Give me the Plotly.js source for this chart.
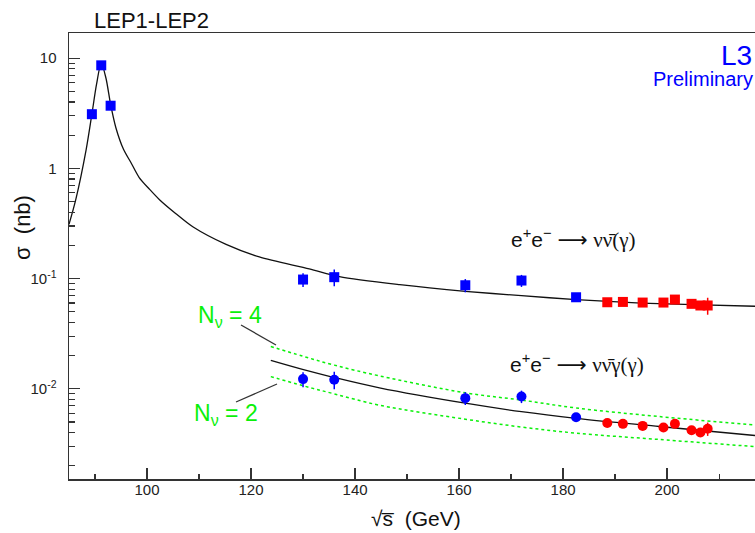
<!DOCTYPE html>
<html>
<head>
<meta charset="utf-8">
<script src="https://cdn.plot.ly/plotly-3.0.1.min.js"></script>
<style>html,body{margin:0;padding:0;background:#fff;}#chart{width:755px;height:533px;}</style>
</head>
<body>
<div id="chart"></div>
<script>
// ---- measurements: e+e- -> nu nubar (gamma)  (squares) ----
const nnX_blue = [89.4, 91.2, 93.0, 130.0, 136.0, 161.2, 172.0, 182.5];
const nnY_blue = [3.1, 8.6, 3.7, 0.098, 0.103, 0.087, 0.096, 0.0677];
const nnE_blue = [0, 0, 0, 0.014, 0.018, 0.012, 0.012, 0.004];
const nnX_red = [188.5, 191.5, 195.3, 199.3, 201.5, 204.7, 206.4, 207.8];
const nnY_red = [0.061, 0.0614, 0.0606, 0.0606, 0.0645, 0.059, 0.057, 0.057];
const nnE_red = [0.003, 0.003, 0.003, 0.003, 0.003, 0.003, 0.004, 0.010];

// ---- measurements: e+e- -> nu nubar gamma (gamma)  (circles) ----
const ngX_blue = [130.0, 136.0, 161.2, 172.0, 182.5];
const ngY_blue = [0.01225, 0.0121, 0.00823, 0.00852, 0.00553];
const ngE_blue = [0.0019, 0.0022, 0.0011, 0.0011, 0.0003];
const ngX_red = [188.5, 191.5, 195.3, 199.3, 201.5, 204.7, 206.4, 207.8];
const ngY_red = [0.00489, 0.00481, 0.00461, 0.00446, 0.00481, 0.00421, 0.00401, 0.00434];
const ngE_red = [0.0002, 0.0002, 0.0002, 0.0002, 0.0002, 0.0002, 0.0003, 0.0006];

// ---- theory curves ----
const nnCurveX = [85.0, 86.3, 88.3, 89.4, 90.3, 91.2, 92.1, 93.0, 94.0, 95.5, 96.9, 98.5, 100.5, 102.4, 105.5, 108.8, 115.2, 121.6, 131.2, 137.0, 148.6, 161.2, 172.0, 182.5, 195.0, 205.0, 216.9];
const nnCurveY = [0.31, 0.52, 1.48, 3.1, 5.8, 9.0, 6.6, 3.8, 2.35, 1.48, 1.13, 0.825, 0.645, 0.52, 0.39, 0.295, 0.204, 0.157, 0.1225, 0.104, 0.088, 0.0767, 0.070, 0.0645, 0.060, 0.058, 0.0561];

const ngCurveX = [123.8, 129.9, 136.0, 144.7, 161.2, 172.0, 182.5, 198.5, 216.9];
const ngCurveY_N3 = [0.0181, 0.0150, 0.01266, 0.0102, 0.0074, 0.0062, 0.0054, 0.00455, 0.00377];
const ngCurveY_N4 = [0.0242, 0.0198, 0.0164, 0.0131, 0.0092, 0.0079, 0.0067, 0.0056, 0.0047];
const ngCurveY_N2 = [0.0129, 0.0107, 0.0090, 0.0071, 0.0053, 0.0045, 0.00396, 0.00347, 0.00299];

// ---- axis ticks ----
const yTickVals = [0.01, 0.1, 1, 10];
const yTickText = ['10<sup>-2</sup>', '10<sup>-1</sup>', '1', '10'];
const yMinorVals = [0.002,0.003,0.004,0.005,0.006,0.007,0.008,0.009,
                    0.02,0.03,0.04,0.05,0.06,0.07,0.08,0.09,
                    0.2,0.3,0.4,0.5,0.6,0.7,0.8,0.9,
                    2,3,4,5,6,7,8,9];

const BLUE = 'rgb(0,0,255)', RED = 'rgb(255,0,0)', GREEN = 'rgb(10,240,10)';
const FONT = 'Liberation Sans, Arial, Helvetica, sans-serif';
const SYM = 'font-family:Liberation Serif,DejaVu Serif,serif';
const ARR = 'font-family:DejaVu Sans,sans-serif';

// layout geometry
const W = 755, H = 533, ML = 69, MR = 0, MT = 33, MB = 54;
const PW = W - ML - MR, PH = H - MT - MB;
const px = v => (v - ML) / PW;
const py = v => (H - MB - v) / PH;

function errTrace(x, y, e, color, symbol) {
  return {
    x: x, y: y, type: 'scatter', mode: 'markers',
    marker: {symbol: symbol, size: 10, color: color, line: {width: 0}},
    error_y: {type: 'data', array: e, visible: true, color: color, thickness: 1.5, width: 0},
    hoverinfo: 'x+y', cliponaxis: false
  };
}

const traces = [
  {x: nnCurveX, y: nnCurveY, type: 'scatter', mode: 'lines', line: {color: '#111', width: 1.3, shape: 'spline', smoothing: 0.8}},
  {x: ngCurveX, y: ngCurveY_N4, type: 'scatter', mode: 'lines', line: {color: GREEN, width: 1.5, dash: 'dot', shape: 'spline'}},
  {x: ngCurveX, y: ngCurveY_N2, type: 'scatter', mode: 'lines', line: {color: GREEN, width: 1.5, dash: 'dot', shape: 'spline'}},
  {x: ngCurveX, y: ngCurveY_N3, type: 'scatter', mode: 'lines', line: {color: '#111', width: 1.3, shape: 'spline'}},
  errTrace(nnX_blue, nnY_blue, nnE_blue, BLUE, 'square'),
  errTrace(nnX_red, nnY_red, nnE_red, RED, 'square'),
  errTrace(ngX_blue, ngY_blue, ngE_blue, BLUE, 'circle'),
  errTrace(ngX_red, ngY_red, ngE_red, RED, 'circle'),
  // invisible trace to activate the minor-tick overlay axis
  {x: [150], y: [0.1], yaxis: 'y2', type: 'scatter', mode: 'markers', marker: {opacity: 0}, hoverinfo: 'skip'}
];

const yRange = [Math.log10(0.00152), Math.log10(16.9)];

const layout = {
  width: W, height: H,
  margin: {l: ML, r: MR, t: MT, b: MB, pad: 0},
  paper_bgcolor: '#fff', plot_bgcolor: '#fff',
  showlegend: false,
  font: {family: FONT, size: 15, color: '#222'},
  xaxis: {
    range: [85.0, 216.9], showgrid: false, zeroline: false,
    showline: true, linecolor: '#333', linewidth: 1.5, mirror: true,
    ticks: 'inside', ticklen: 11, tickwidth: 1.2, tickcolor: '#333',
    tick0: 0, dtick: 20, tickfont: {family: FONT, size: 15, color: '#222'},
    ticklabelstandoff: -4,
    minor: {ticks: 'inside', dtick: 10, ticklen: 5, tickwidth: 1.2, tickcolor: '#333', showgrid: false}
  },
  yaxis: {
    type: 'log', range: yRange, showgrid: false, zeroline: false,
    showline: true, linecolor: '#333', linewidth: 1.5,
    ticks: 'inside', ticklen: 11, tickwidth: 1.2, tickcolor: '#333',
    tickmode: 'array', tickvals: yTickVals, ticktext: yTickText,
    tickfont: {family: FONT, size: 15, color: '#222'}, ticklabelstandoff: 8
  },
  yaxis2: {
    type: 'log', range: yRange, overlaying: 'y', side: 'left', anchor: 'x',
    showgrid: false, zeroline: false, showline: false,
    ticks: 'inside', ticklen: 6, tickwidth: 1.2, tickcolor: '#333',
    tickmode: 'array', tickvals: yMinorVals, showticklabels: false
  },
  annotations: [
    {text: 'LEP1-LEP2', xref: 'paper', yref: 'paper', x: px(151), y: py(21), xanchor: 'center', yanchor: 'middle', showarrow: false, font: {family: FONT, size: 22, color: '#111'}},
    {text: 'L3', xref: 'paper', yref: 'paper', x: px(754), y: py(55), xanchor: 'right', yanchor: 'middle', showarrow: false, font: {family: FONT, size: 28, color: BLUE}},
    {text: 'Preliminary', xref: 'paper', yref: 'paper', x: px(755), y: py(79), xanchor: 'right', yanchor: 'middle', showarrow: false, font: {family: FONT, size: 20, color: BLUE}},
    {text: 'e<sup>+</sup>e<sup>\u2212</sup> <span style="' + ARR + '">\u27f6</span> <span style="' + SYM + '">\u03bd\u03bd\u0304(\u03b3)</span>', xref: 'paper', yref: 'paper', x: px(509), y: py(238), xanchor: 'left', yanchor: 'middle', showarrow: false, font: {family: FONT, size: 21, color: '#111'}},
    {text: 'e<sup>+</sup>e<sup>\u2212</sup> <span style="' + ARR + '">\u27f6</span> <span style="' + SYM + '">\u03bd\u03bd\u0304\u03b3(\u03b3)</span>', xref: 'paper', yref: 'paper', x: px(508), y: py(363), xanchor: 'left', yanchor: 'middle', showarrow: false, font: {family: FONT, size: 21, color: '#111'}},
    {text: 'N<sub>\u03bd</sub> = 4', xref: 'paper', yref: 'paper', x: px(196), y: py(316), xanchor: 'left', yanchor: 'middle', showarrow: false, font: {family: FONT, size: 23, color: GREEN}},
    {text: 'N<sub>\u03bd</sub> = 2', xref: 'paper', yref: 'paper', x: px(192), y: py(414), xanchor: 'left', yanchor: 'middle', showarrow: false, font: {family: FONT, size: 23, color: GREEN}},
    {text: '\u03c3  (nb)', xref: 'paper', yref: 'paper', x: px(22), y: py(228), xanchor: 'center', yanchor: 'middle', textangle: -90, showarrow: false, font: {family: FONT, size: 22, color: '#111'}},
    {text: '\u221as\u0305  (GeV)', xref: 'paper', yref: 'paper', x: px(416), y: py(518), xanchor: 'center', yanchor: 'middle', showarrow: false, font: {family: FONT, size: 21, color: '#111'}}
  ],
  shapes: [
    {type: 'line', xref: 'paper', yref: 'paper', x0: px(241), y0: py(325), x1: px(276), y1: py(345), line: {color: '#333', width: 1.3}},
    {type: 'line', xref: 'paper', yref: 'paper', x0: px(236), y0: py(402), x1: px(277), y1: py(384), line: {color: '#333', width: 1.3}}
  ]
};

Plotly.newPlot('chart', traces, layout, {displayModeBar: false, staticPlot: true});
</script>
</body>
</html>
